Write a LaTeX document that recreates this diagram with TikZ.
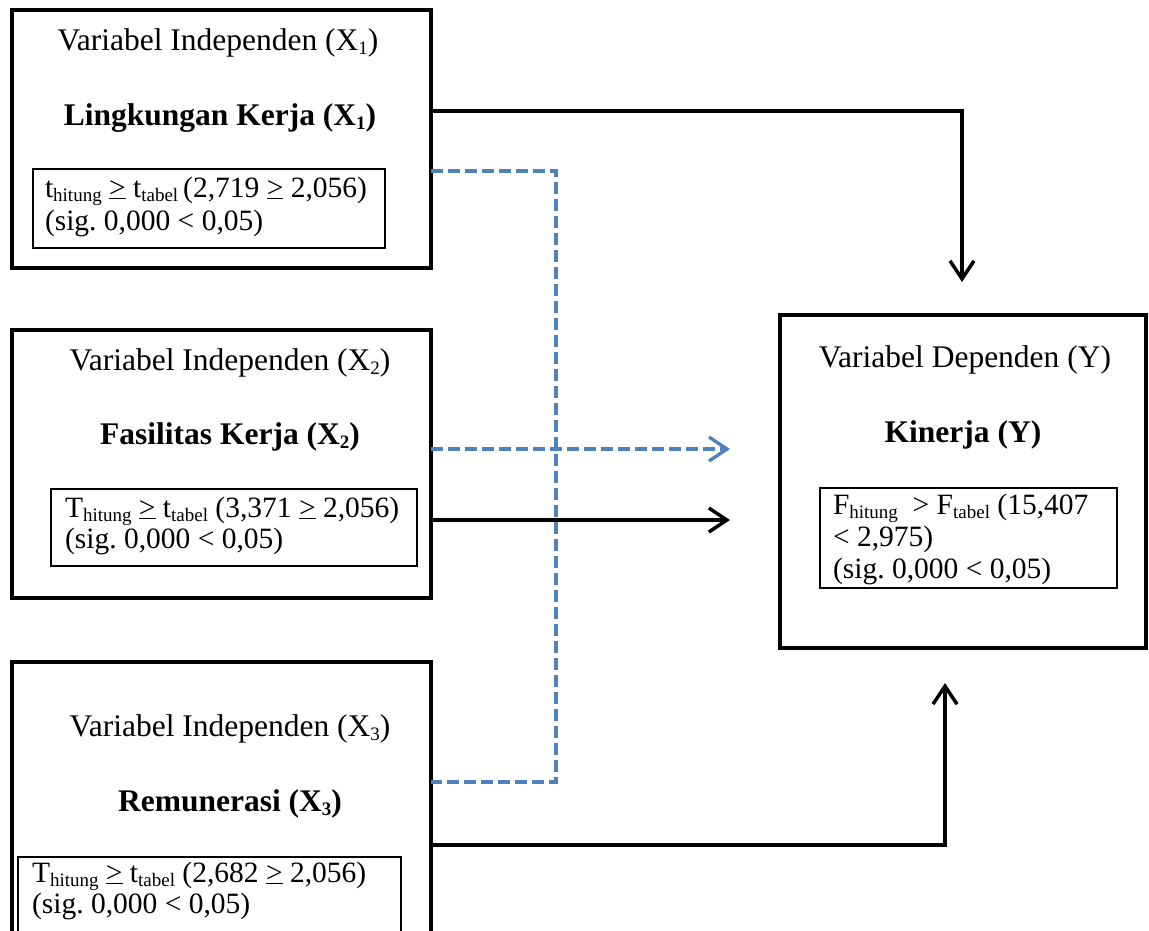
\documentclass[tikz,border=0pt]{standalone}
\usepackage{fontspec}
\setmainfont{Liberation Serif}
\usetikzlibrary{arrows.meta}
\definecolor{dblue}{RGB}{79,129,189}
\newcommand{\sbs}[1]{\raisebox{-4.5pt}{\fontsize{19}{19}\selectfont #1}}
\newcommand{\geu}{\underline{>}}
\frenchspacing
\tikzset{
  bigbox/.style={draw=black, line width=4pt, inner sep=0pt, outer sep=0pt},
  smallbox/.style={draw=black, line width=2pt, inner sep=0pt, outer sep=0pt},
  txt/.style={inner sep=0pt, outer sep=0pt, anchor=base, font=\fontsize{31.5}{36}\selectfont},
  ltxt/.style={inner sep=0pt, outer sep=0pt, anchor=base west, font=\fontsize{29.5}{34}\selectfont},
  btxt/.style={txt, font=\fontsize{31.5}{36}\selectfont\bfseries},
  solidcon/.style={line width=3.5pt, draw=black},
  dashcon/.style={line width=3.3pt, draw=dblue, dash pattern=on 12pt off 5pt},
  tipped/.style={-{Straight Barb[length=18pt,width=24pt]}},
}
\begin{document}
\begin{tikzpicture}[x=1pt,y=-1pt]
\useasboundingbox (0,0) rectangle (1149,930);
\clip (0,0) rectangle (1149,930);

% main boxes
\node[bigbox, minimum width=419pt, minimum height=258pt] (b1) at (221.5,139) {};
\node[bigbox, minimum width=419pt, minimum height=268pt] (b2) at (221.5,464) {};
\node[bigbox, minimum width=419pt, minimum height=298pt] (b3) at (221.5,811) {};
\node[bigbox, minimum width=366pt, minimum height=333pt] (by) at (963,481.5) {};

% inner boxes
\node[smallbox, minimum width=352pt, minimum height=79pt] (i1) at (209,208.5) {};
\node[smallbox, minimum width=366pt, minimum height=77pt] (i2) at (234,527.5) {};
\node[smallbox, minimum width=383pt, minimum height=83pt] (i3) at (209.5,898.5) {};
\node[smallbox, minimum width=297pt, minimum height=100pt] (iy) at (968.5,538) {};

% texts box 1
\node[txt] (t1a) at (218,50) {Variabel Independen (X\sbs{1})};
\node[btxt] (t1b) at (220,125) {Lingkungan Kerja (X\sbs{1})};
\node[ltxt] (t1c) at (45,197) {t\sbs{hitung} \geu{} t\sbs{tabel}\,(2,719 \geu{} 2,056)};
\node[ltxt] (t1d) at (45,230) {(sig. 0,000 < 0,05)};

% texts box 2
\node[txt] (t2a) at (230,370) {Variabel Independen (X\sbs{2})};
\node[btxt] (t2b) at (230,444) {Fasilitas Kerja (X\sbs{2})};
\node[ltxt] (t2c) at (65,517) {T\sbs{hitung} \geu{} t\sbs{tabel} (3,371 \geu{} 2,056)};
\node[ltxt] (t2d) at (65,548) {(sig. 0,000 < 0,05)};

% texts box 3
\node[txt] (t3a) at (230,736) {Variabel Independen (X\sbs{3})};
\node[btxt] (t3b) at (230,811) {Remunerasi (X\sbs{3})};
\node[ltxt] (t3c) at (32,882) {T\sbs{hitung} \geu{} t\sbs{tabel} (2,682 \geu{} 2,056)};
\node[ltxt] (t3d) at (32,913) {(sig. 0,000 < 0,05)};

% texts box Y
\node[txt] (tya) at (965,367) {Variabel Dependen (Y)};
\node[btxt] (tyb) at (963,442) {Kinerja (Y)};
\node[ltxt] (tyc) at (833,514) {F\sbs{hitung}\ \ > F\sbs{tabel} (15,407};
\node[ltxt] (tyd) at (833,546) {< 2,975)};
\node[ltxt] (tye) at (833,578) {(sig. 0,000 < 0,05)};

% connector coordinates
\coordinate (c1) at (962,111);
\coordinate (e1) at (962,282);
\coordinate (d1) at (556,171);
\coordinate (d3) at (556,782);
\coordinate (e2) at (730,449);
\coordinate (e3) at (730,520);
\coordinate (c5) at (945,845);
\coordinate (e5) at (945,683);

% connectors
\draw[solidcon, tipped] (b1.east |- c1) -- (c1) -- (e1);
\draw[dashcon] (b1.east |- d1) -- (d1) -- (d3) -- (b3.east |- d3);
\draw[dashcon, tipped] (b2.east |- e2) -- (e2);
\draw[solidcon, tipped] (b2.east |- e3) -- (e3);
\draw[solidcon, tipped] (b3.east |- c5) -- (c5) -- (e5);
\end{tikzpicture}
\end{document}
